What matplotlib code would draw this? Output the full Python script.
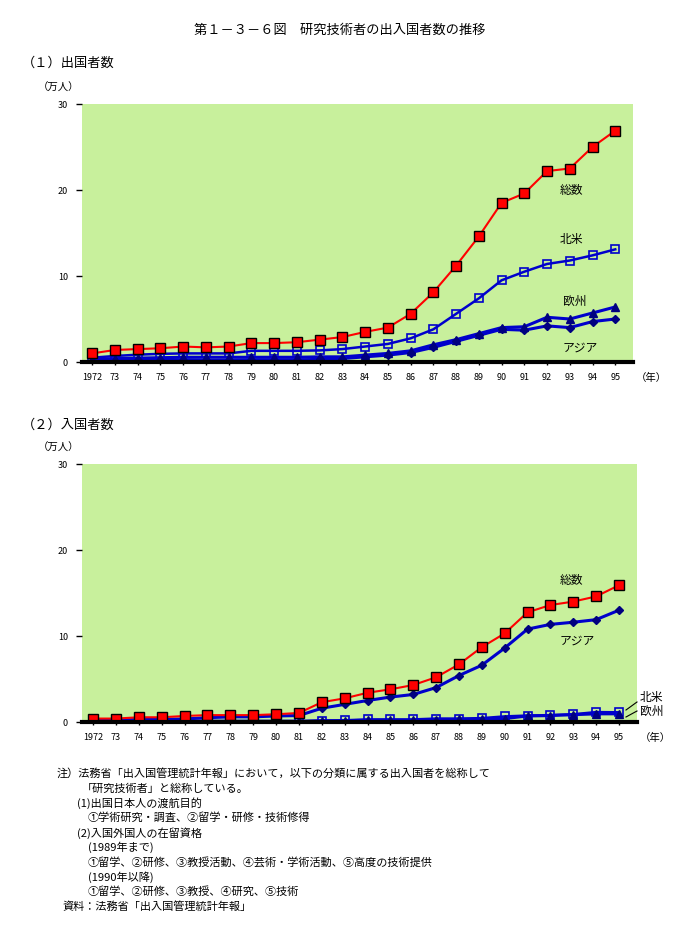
import matplotlib.pyplot as plt

plt.rcParams['font.family'] = ['Noto Sans CJK JP', 'DejaVu Sans']

W, H = 685, 943

years = list(range(1972, 1996))
xlabels = ['1972'] + [str(y)[2:] for y in years[1:]]

# (1) 出国者数 (万人)
out_total = [1.0, 1.4, 1.5, 1.6, 1.8, 1.7, 1.8, 2.2, 2.2, 2.3, 2.6, 2.9,
             3.5, 4.0, 5.6, 8.1, 11.2, 14.6, 18.5, 19.6, 22.2, 22.5, 25.0, 26.9]
out_na = [0.5, 0.7, 0.85, 0.95, 1.0, 1.0, 1.0, 1.3, 1.3, 1.3, 1.35, 1.5,
          1.8, 2.1, 2.75, 3.8, 5.6, 7.4, 9.5, 10.5, 11.4, 11.8, 12.4, 13.1]
out_eu = [0.3, 0.4, 0.45, 0.5, 0.55, 0.55, 0.55, 0.55, 0.55, 0.55, 0.6, 0.6,
          0.8, 1.0, 1.3, 2.0, 2.6, 3.3, 4.0, 4.1, 5.2, 5.0, 5.7, 6.4]
out_asia = [0.1, 0.15, 0.2, 0.2, 0.25, 0.2, 0.2, 0.25, 0.25, 0.25, 0.3, 0.4,
            0.6, 0.8, 1.1, 1.7, 2.4, 3.1, 3.8, 3.7, 4.2, 4.0, 4.7, 5.0]

# (2) 入国者数 (万人)
in_total = [0.4, 0.4, 0.55, 0.55, 0.7, 0.8, 0.8, 0.8, 0.9, 1.05, 2.3, 2.75,
            3.4, 3.8, 4.3, 5.2, 6.7, 8.7, 10.3, 12.75, 13.6, 14.0, 14.6, 15.9]
in_asia = [0.2, 0.2, 0.3, 0.3, 0.35, 0.5, 0.6, 0.6, 0.7, 0.75, 1.6, 2.05,
           2.5, 2.9, 3.2, 4.0, 5.4, 6.6, 8.6, 10.8, 11.35, 11.6, 11.9, 13.0]
in_na = [0.05, 0.05, 0.05, 0.05, 0.05, 0.05, 0.05, 0.05, 0.05, 0.05, 0.15, 0.2,
         0.3, 0.3, 0.3, 0.4, 0.4, 0.45, 0.65, 0.75, 0.8, 0.9, 1.15, 1.13]
in_eu = [0.1, 0.1, 0.1, 0.1, 0.1, 0.1, 0.1, 0.1, 0.1, 0.1, 0.15, 0.15,
         0.2, 0.2, 0.2, 0.25, 0.3, 0.3, 0.4, 0.7, 0.75, 0.85, 0.95, 0.95]

notes = [
    (57, '注）法務省「出入国管理統計年報」において，以下の分類に属する出入国者を総称して'),
    (82, '「研究技術者」と総称している。'),
    (77, '(1)出国日本人の渡航目的'),
    (88, '①学術研究・調査、②留学・研修・技術修得'),
    (77, '(2)入国外国人の在留資格'),
    (88, '(1989年まで)'),
    (88, '①留学、②研修、③教授活動、④芸術・学術活動、⑤高度の技術提供'),
    (88, '(1990年以降)'),
    (88, '①留学、②研修、③教授、④研究、⑤技術'),
    (63, '資料：法務省「出入国管理統計年報」'),
]

BG = '#c8f09c'
RED = '#ff0000'
BLUE = '#0000cc'
NAVY = '#000080'


def px_axes(fig, left, top, right, bottom):
    return fig.add_axes([left / W, 1 - bottom / H, (right - left) / W, (bottom - top) / H])


def ftext(fig, x, y, s, **kw):
    kw.setdefault('va', 'center')
    fig.text(x / W, 1 - y / H, s, **kw)


def setup(ax, xlim_left, xlim_right):
    x = list(range(len(years)))
    ax.set_facecolor(BG)
    ax.set_xlim(xlim_left, xlim_right)
    ax.set_ylim(0, 30)
    ax.set_yticks([0, 10, 20, 30])
    ax.set_xticks(x)
    ax.set_xticklabels(xlabels, fontsize=6.5)
    ax.tick_params(axis='y', length=4, width=1, labelsize=6.5, pad=6)
    ax.tick_params(axis='x', length=2, width=1, pad=6)
    for s in ['top', 'right', 'left']:
        ax.spines[s].set_visible(False)
    ax.spines['bottom'].set_linewidth(3)
    ax.spines['bottom'].set_zorder(5)
    return x


def draw(ax, x, total, na, eu, asia):
    ax.plot(x, na, color=BLUE, lw=1.8, marker='s', ms=6, mfc='none',
            mec=BLUE, mew=1.2, zorder=3)
    ax.plot(x, eu, color=BLUE, lw=2.2, marker='^', ms=6, mfc=NAVY,
            mec=NAVY, zorder=3)
    ax.plot(x, asia, color=BLUE, lw=2.2, marker='D', ms=4.5, mfc=NAVY,
            mec=NAVY, zorder=3)
    ax.plot(x, total, color=RED, lw=1.5, marker='s', ms=6.5, mfc=RED,
            mec='black', mew=1, zorder=4)


fig = plt.figure(figsize=(W / 100, H / 100), dpi=100)

ftext(fig, 340, 30, '第１－３－６図　研究技術者の出入国者数の推移', fontsize=9.5, ha='center')

# (1) 出国者数
ftext(fig, 22, 63, '（１）出国者数', fontsize=9.5)
ftext(fig, 38, 88, '（万人）', fontsize=7.5)
ax1 = px_axes(fig, 82, 104, 633, 362)
x = setup(ax1, -0.45, 23.78)
draw(ax1, x, out_total, out_na, out_eu, out_asia)
ax1.text(20.55, 19.9, '総数', fontsize=8.5, va='center')
ax1.text(20.55, 14.3, '北米', fontsize=8.5, va='center')
ax1.text(20.7, 7.1, '欧州', fontsize=8.5, va='center')
ax1.text(20.7, 1.6, 'アジア', fontsize=8.5, va='center')
ftext(fig, 636, 378, '（年）', fontsize=7.5)

# (2) 入国者数
ftext(fig, 22, 425, '（２）入国者数', fontsize=9.5)
ftext(fig, 38, 448, '（万人）', fontsize=7.5)
ax2 = px_axes(fig, 82, 464, 637, 722)
x = setup(ax2, -0.49, 23.79)
draw(ax2, x, in_total, in_na, in_eu, in_asia)
ax2.text(20.4, 16.4, '総数', fontsize=8.5, va='center')
ax2.text(20.4, 9.4, 'アジア', fontsize=8.5, va='center')
ftext(fig, 640, 697, '北米', fontsize=8.5)
ftext(fig, 640, 711, '欧州', fontsize=8.5)
fig.add_artist(plt.Line2D([626 / W, 637 / W], [1 - 710 / H, 1 - 702 / H], color='black', lw=0.8))
fig.add_artist(plt.Line2D([626 / W, 637 / W], [1 - 717 / H, 1 - 711 / H], color='black', lw=0.8))
ftext(fig, 640, 738, '（年）', fontsize=7.5)

for i, (xx, s) in enumerate(notes):
    ftext(fig, xx, 773.5 + i * 14.8, s, fontsize=8)

fig.savefig('out.png', dpi=100)
